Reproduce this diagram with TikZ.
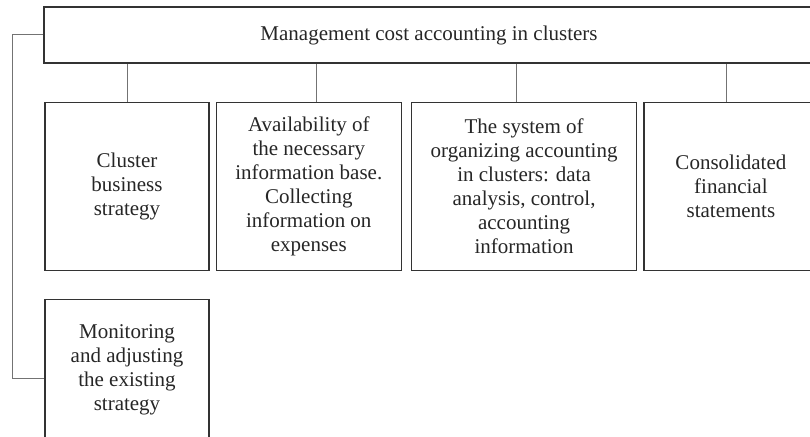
\documentclass[tikz,border=0pt]{standalone}
\usepackage{fontspec}
\setmainfont{Liberation Serif}
\usetikzlibrary{positioning}

\begin{document}
\begin{tikzpicture}[x=1pt,y=-1pt,node distance=6pt,
  box/.style={draw=black!80,line width=1.3pt,align=center,inner sep=2pt,minimum height=168pt,text=black!85,font=\fontsize{21}{24}\selectfont},
  link/.style={draw=black!55,line width=1pt}]
\useasboundingbox (0,0) rectangle (810,436);
%\draw[help lines] (0,0) grid[step=50] (810,436);
\path node[box,minimum width=770pt,minimum height=56pt] (top) at (429,35) {Management cost accounting in clusters};
\path node[box,minimum width=164pt] (strat) at (127,186.5) {Cluster\\business\\strategy};
\path node[box,minimum width=185pt,right =of strat] (info) {Availability of\\the necessary\\information base.\\Collecting\\information on\\expenses};
\path node[box,minimum width=225pt,right =9pt of info] (sys) {The system of\\organizing accounting\\in clusters: data\\analysis, control,\\accounting\\information};
\path node[box,minimum width=174pt,right =of sys] (cons) {Consolidated\\financial\\statements};
\path node[box,minimum width=164pt,minimum height=142pt,below =27.5pt of strat] (mon) {Monitoring\\and adjusting\\the existing\\strategy};
\draw[link] (strat.north) -- (strat.north |- top.south);
\draw[link] ([xshift=7.5pt]info.north) -- ([xshift=7.5pt]info.north |- top.south);
\draw[link] ([xshift=-7.5pt]sys.north) -- ([xshift=-7.5pt]sys.north |- top.south);
\draw[link] ([xshift=-4pt]cons.north) -- ([xshift=-4pt]cons.north |- top.south);
\draw[link] (top.west) -- ++(-31,0) |- ([yshift=-8pt]mon.west);
\end{tikzpicture}
\end{document}
